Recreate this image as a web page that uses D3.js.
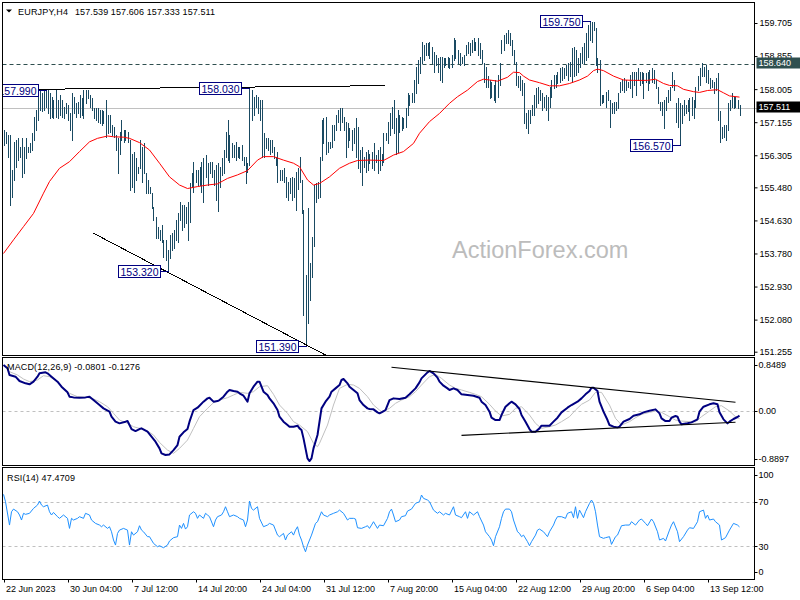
<!DOCTYPE html>
<html><head><meta charset="utf-8">
<script src="https://cdn.jsdelivr.net/npm/d3@7"></script>
<style>html,body{margin:0;padding:0;background:#fff;}svg{display:block;font-family:"Liberation Sans",Arial,sans-serif;}</style>
</head><body><svg id="c" width="800" height="600"></svg>
<script>
// ---------- DATA ----------
const symbolName = "EURJPY,H4";
const ohlcNow = ["157.539","157.606","157.333","157.511"];
const barHigh = [
156.95,156.91,156.83,156.83,155.93,156.65,156.70,156.74,156.53,156.74,
156.53,156.74,156.53,156.61,156.87,157.30,157.47,157.98,157.98,157.90,
157.98,157.98,157.98,157.90,157.81,157.73,157.98,157.73,157.85,157.73,
157.55,157.64,157.60,157.38,157.90,157.81,157.64,157.68,157.85,157.77,
157.98,157.98,157.98,157.85,157.77,157.51,157.51,157.51,157.47,157.47,
157.43,157.73,157.34,157.34,157.08,157.04,156.83,156.74,156.91,157.21,
156.95,156.95,156.91,156.70,156.35,156.40,156.23,156.01,156.70,156.53,
156.61,155.84,155.67,155.50,155.33,154.98,154.73,154.47,154.38,154.51,
154.13,154.13,153.87,154.26,154.30,154.38,154.64,154.81,155.11,155.03,
155.03,154.98,155.11,155.58,155.84,156.14,155.93,155.93,156.01,156.14,
156.23,156.31,156.10,156.14,156.14,155.93,156.05,156.10,156.01,156.23,
156.44,156.91,157.21,156.83,156.61,156.57,156.65,156.53,156.53,156.57,
156.27,156.27,156.10,158.03,
157.98,157.81,157.85,157.81,157.73,157.73,156.87,156.74,156.74,156.70,
156.70,156.53,156.27,156.40,155.93,155.93,155.97,155.75,155.63,155.71,
155.75,155.71,155.88,155.97,156.27,155.67,154.90,153.23,154.94,153.53,
154.21,155.54,155.58,155.63,156.27,157.21,157.25,157.30,156.65,156.65,
157.08,157.08,157.34,157.47,157.51,157.51,157.30,157.17,157.13,157.00,
156.95,157.00,157.25,157.04,156.44,156.53,156.27,156.40,156.44,156.35,
156.40,156.61,156.31,156.44,156.53,156.35,156.87,156.87,157.17,157.38,
157.55,157.73,157.25,157.47,157.34,157.30,157.25,157.51,157.90,157.85,
157.90,158.24,158.58,158.75,158.84,159.22,159.14,159.18,159.18,159.22,
159.10,158.97,158.88,158.80,158.84,158.84,158.80,158.80,158.84,158.80,
158.88,159.31,159.27,159.01,158.93,158.84,158.88,159.14,159.22,159.18,
159.27,159.31,159.22,159.31,159.18,159.01,158.67,158.58,158.33,158.24,
158.20,158.11,158.24,158.37,
158.67,159.27,159.40,159.44,159.53,159.44,159.27,159.01,158.71,158.33,
158.33,158.24,158.15,157.38,157.47,157.47,157.60,157.85,158.03,158.07,
157.98,157.90,157.81,157.85,157.81,158.07,158.24,158.37,158.37,158.45,
158.54,158.58,158.54,158.63,158.67,158.71,159.05,159.10,159.01,158.80,
158.93,159.10,159.18,159.44,159.65,159.75,159.72,159.74,159.57,158.80,
158.75,157.85,157.85,157.94,157.98,157.73,157.64,157.68,157.68,157.90,
158.20,158.24,158.28,158.24,158.20,158.37,158.45,158.45,158.45,158.54,
158.45,158.45,158.41,158.41,158.45,158.50,158.54,158.50,158.24,158.07,
157.68,157.68,157.73,157.81,157.98,158.07,158.45,158.24,157.64,157.77,
157.64,157.60,157.73,157.60,157.73,157.77,157.81,157.73,158.07,158.33,
158.54,158.67,158.58,158.63,158.50,158.28,158.24,158.20,158.28,158.41,
157.43,157.04,157.08,157.08,157.64,157.73,157.90,157.81,157.81,157.73,
157.606];
const barLow = [
156.57,156.61,156.27,155.03,155.24,155.67,156.01,156.18,156.27,155.75,
155.84,156.23,156.40,156.40,156.44,156.70,156.95,157.21,157.47,157.43,
157.47,157.55,157.38,157.25,157.30,157.25,157.30,157.25,157.34,157.30,
157.25,157.38,157.21,156.95,156.70,157.38,157.30,157.38,157.30,157.34,
157.25,157.64,157.77,157.55,157.47,157.25,157.21,157.17,157.13,157.08,
157.13,156.78,156.87,156.91,156.83,156.78,156.44,155.84,156.35,156.70,
156.65,156.70,156.65,155.41,155.50,155.37,155.67,155.84,155.97,155.63,
155.84,155.33,155.33,155.33,154.94,154.64,154.17,154.17,154.13,154.08,
153.70,153.61,153.32,153.66,153.87,153.91,154.13,154.08,154.64,154.38,
154.47,154.56,154.13,154.60,155.50,155.37,155.63,155.54,155.54,155.37,
155.11,155.75,155.54,155.84,155.75,155.54,155.15,154.86,155.50,155.80,
155.84,156.27,156.18,156.14,156.27,156.27,156.18,156.27,156.23,156.18,
156.05,155.58,155.88,156.05,
157.21,157.34,157.55,157.38,157.21,156.27,156.27,156.48,156.44,156.35,
156.40,156.23,156.05,155.63,155.67,155.67,155.63,155.24,155.15,155.33,
155.15,155.24,154.90,155.45,155.63,154.81,152.20,151.39,151.98,152.58,
153.18,153.96,155.11,155.20,155.24,156.18,156.61,156.35,156.40,156.48,
156.53,156.70,156.95,157.17,156.95,157.17,156.95,156.27,156.53,156.70,
156.44,156.61,156.27,155.97,155.88,155.54,156.01,155.88,155.93,156.10,
155.97,155.93,156.14,155.84,155.93,156.05,156.14,156.70,156.61,156.83,
157.00,156.87,156.35,156.40,156.91,156.95,157.00,157.04,157.34,157.60,
157.68,157.68,157.90,158.15,158.41,158.67,158.75,158.88,158.88,158.80,
158.67,158.45,158.63,158.45,158.24,158.20,158.58,158.63,158.58,158.54,
158.58,158.75,158.80,158.67,158.63,158.67,158.63,158.88,158.93,158.88,
158.97,159.01,159.01,158.88,158.80,158.67,158.20,158.07,158.07,157.77,
157.81,157.73,157.68,157.81,
158.11,158.93,159.01,159.18,159.18,159.14,158.88,158.67,158.11,158.07,
157.98,157.85,157.13,157.00,156.87,157.13,157.34,157.34,157.55,157.64,
157.73,157.47,157.55,157.47,157.21,157.55,157.81,158.03,158.07,158.15,
158.20,158.24,158.28,158.37,158.24,158.33,158.20,158.33,158.37,158.45,
158.58,158.67,158.67,158.75,158.84,159.27,159.22,159.53,158.63,158.45,
157.60,157.64,157.68,157.55,157.73,157.04,157.38,157.38,157.47,157.51,
157.94,157.98,157.94,157.98,158.07,158.03,157.81,158.11,157.85,158.24,
158.11,158.15,157.77,158.20,157.98,158.15,158.20,158.15,158.03,157.64,
157.47,157.34,157.00,157.47,157.68,157.73,158.07,157.98,157.17,157.04,
156.57,157.13,157.34,157.38,157.43,157.21,157.34,157.25,157.55,157.98,
158.11,158.33,158.33,158.20,158.15,158.03,158.07,157.90,157.98,157.21,
156.65,156.74,156.78,156.70,156.95,157.47,157.55,157.51,157.55,157.51,
157.333];
// moving average (red) : [bar index, price]
const maLine = [[0,153.78],[5,154.13],[10,154.47],[15,154.81],[20,155.33],[23,155.63],[28,155.97],[33,156.14],[38,156.40],[43,156.65],[47,156.74],[52,156.80],[55,156.78],[60,156.77],[63,156.74],[68,156.63],[73,156.44],[78,156.10],[83,155.75],[88,155.54],[92,155.45],[97,155.50],[102,155.54],[107,155.57],[112,155.71],[117,155.80],[122,155.91],[127,156.18],[130,156.27],[135,156.27],[140,156.18],[145,156.10],[148,156.01],[152,155.67],[155,155.54],[158,155.58],[163,155.75],[168,155.97],[173,156.10],[177,156.17],[183,156.18],[190,156.17],[195,156.31],[200,156.40],[205,156.61],[208,156.87],[213,157.17],[218,157.38],[223,157.64],[227,157.81],[232,157.98],[237,158.20],[240,158.26],[243,158.24],[247,158.21],[252,158.31],[255,158.44],[258,158.43],[260,158.34],[263,158.24],[268,158.17],[273,158.09],[278,158.09],[283,158.15],[288,158.24],[292,158.34],[295,158.48],[297,158.52],[300,158.48],[305,158.34],[310,158.24],[315,158.23],[322,158.23],[326,158.26],[330,158.15],[333,158.10],[337,158.09],[340,158.00],[345,157.94],[348,157.92],[352,157.97],[357,157.99],[360,157.91],[363,157.83],[368,157.80]];
// MACD main (navy) and signal (silver): [bar index, value]
const macdMain = [[0,0.736],[2,0.683],[3,0.575],[6,0.548],[8,0.478],[11,0.441],[13,0.425],[15,0.468],[17,0.548],[18,0.602],[21,0.618],[22,0.602],[24,0.548],[27,0.468],[29,0.387],[32,0.296],[33,0.226],[35,0.215],[38,0.210],[41,0.215],[43,0.226],[45,0.172],[48,0.092],[50,0.038],[53,-0.015],[54,-0.096],[56,-0.176],[58,-0.203],[61,-0.176],[62,-0.166],[63,-0.230],[64,-0.295],[66,-0.327],[68,-0.295],[69,-0.284],[72,-0.337],[74,-0.418],[76,-0.499],[78,-0.606],[79,-0.686],[81,-0.713],[83,-0.703],[85,-0.633],[87,-0.552],[88,-0.418],[90,-0.348],[92,-0.295],[93,-0.176],[95,0.011],[97,0.049],[98,0.081],[100,0.146],[102,0.199],[103,0.210],[105,0.146],[107,0.156],[108,0.172],[110,0.226],[112,0.307],[113,0.334],[115,0.317],[117,0.307],[118,0.280],[120,0.242],[122,0.146],[123,0.280],[125,0.387],[127,0.468],[128,0.468],[130,0.307],[132,0.253],[133,0.199],[135,0.119],[137,0.011],[138,-0.096],[140,-0.176],[142,-0.230],[143,-0.257],[145,-0.257],[147,-0.241],[148,-0.284],[149,-0.311],[150,-0.445],[151,-0.606],[152,-0.767],[153,-0.810],[154,-0.767],[155,-0.606],[157,-0.391],[158,-0.176],[159,0.038],[161,0.146],[163,0.226],[164,0.307],[166,0.360],[168,0.414],[169,0.495],[170,0.511],[172,0.441],[173,0.387],[175,0.334],[177,0.280],[178,0.172],[180,0.092],[182,0.038],[183,0.028],[185,0.022],[187,-0.026],[188,-0.042],[189,-0.026],[191,0.011],[193,0.172],[195,0.199],[198,0.189],[201,0.210],[203,0.264],[206,0.360],[208,0.457],[209,0.521],[212,0.618],[213,0.640],[215,0.602],[217,0.532],[218,0.468],[220,0.403],[222,0.360],[223,0.334],[225,0.360],[227,0.334],[229,0.264],[232,0.253],[235,0.242],[238,0.210],[239,0.146],[241,0.092],[243,-0.015],[244,-0.112],[246,-0.150],[248,-0.150],[249,-0.069],[251,0.065],[253,0.119],[254,0.146],[256,0.103],[258,0.028],[259,-0.069],[261,-0.176],[263,-0.295],[264,-0.337],[266,-0.337],[268,-0.284],[269,-0.241],[273,-0.241],[275,-0.176],[277,-0.112],[279,-0.026],[282,0.049],[284,0.092],[287,0.146],[289,0.199],[291,0.264],[293,0.317],[294,0.371],[295,0.371],[297,0.317],[298,0.146],[300,-0.015],[302,-0.150],[303,-0.230],[305,-0.257],[307,-0.268],[308,-0.257],[310,-0.176],[313,-0.133],[315,-0.080],[318,-0.058],[320,-0.026],[323,0.000],[326,0.022],[328,-0.042],[329,-0.123],[331,-0.166],[333,-0.166],[334,-0.112],[336,-0.085],[337,-0.096],[338,-0.176],[339,-0.219],[342,-0.203],[344,-0.187],[347,-0.139],[348,-0.015],[350,0.065],[353,0.103],[355,0.119],[357,0.103],[358,-0.026],[360,-0.139],[362,-0.203],[363,-0.176],[365,-0.133],[367,-0.101],[368,-0.080]];
const macdSignal = [[0,0.736],[3,0.629],[7,0.575],[10,0.511],[13,0.468],[17,0.495],[20,0.564],[23,0.548],[27,0.468],[30,0.360],[33,0.280],[37,0.226],[42,0.215],[45,0.189],[48,0.146],[52,0.065],[55,-0.042],[58,-0.150],[62,-0.203],[65,-0.257],[68,-0.284],[72,-0.327],[75,-0.391],[78,-0.510],[82,-0.633],[85,-0.686],[88,-0.606],[92,-0.472],[95,-0.284],[98,-0.096],[102,0.038],[105,0.130],[108,0.172],[112,0.210],[115,0.253],[118,0.296],[122,0.280],[125,0.307],[128,0.387],[132,0.403],[135,0.264],[138,0.092],[142,-0.042],[145,-0.176],[148,-0.230],[152,-0.337],[155,-0.525],[157,-0.579],[158,-0.525],[162,-0.230],[165,0.092],[168,0.360],[172,0.425],[175,0.414],[178,0.360],[182,0.226],[185,0.092],[188,0.011],[189,-0.015],[193,0.038],[196,0.119],[199,0.172],[203,0.226],[206,0.307],[209,0.414],[213,0.548],[216,0.586],[219,0.521],[223,0.414],[226,0.360],[229,0.334],[233,0.296],[236,0.264],[239,0.226],[243,0.103],[246,-0.005],[249,-0.085],[253,-0.058],[256,0.038],[259,0.065],[263,-0.069],[266,-0.203],[269,-0.284],[273,-0.257],[276,-0.230],[279,-0.176],[283,-0.096],[286,0.011],[289,0.103],[293,0.172],[296,0.296],[299,0.296],[303,0.092],[306,-0.123],[309,-0.230],[313,-0.176],[316,-0.112],[319,-0.058],[323,-0.026],[326,-0.005],[329,-0.026],[333,-0.096],[336,-0.150],[339,-0.166],[343,-0.176],[346,-0.176],[349,-0.096],[353,-0.005],[356,0.065],[359,0.081],[363,-0.005],[366,-0.096],[368,-0.128]];
// RSI(14): [bar index, value]
const rsiLine = [[0,76.6],[1,70.0],[3,49.1],[4,61.0],[5,63.4],[7,61.0],[8,58.1],[9,53.6],[10,59.6],[11,58.7],[13,59.6],[15,64.0],[17,67.0],[18,70.6],[19,67.0],[20,65.5],[22,67.0],[23,61.0],[24,58.1],[25,60.4],[27,56.6],[28,55.1],[30,58.1],[32,55.1],[33,46.1],[34,55.1],[35,53.6],[37,55.1],[38,56.6],[40,55.1],[41,59.6],[43,58.1],[44,53.6],[46,50.6],[48,49.1],[49,47.6],[50,49.1],[52,46.1],[53,47.6],[54,43.1],[55,35.7],[56,31.2],[57,41.6],[58,44.6],[60,46.1],[62,44.6],[63,31.2],[64,43.1],[65,40.1],[67,43.1],[68,48.5],[69,44.6],[70,43.1],[72,38.7],[73,38.7],[75,32.7],[77,29.7],[78,30.6],[80,28.8],[82,31.2],[83,34.8],[85,37.8],[87,38.7],[88,49.1],[89,46.1],[90,50.6],[91,45.5],[92,47.6],[93,58.1],[95,61.0],[96,59.6],[97,55.1],[98,58.1],[100,55.1],[101,59.6],[102,58.1],[103,56.6],[105,47.6],[106,53.6],[107,56.6],[109,58.1],[110,61.0],[111,65.5],[112,61.0],[113,56.6],[115,58.1],[117,56.6],[118,55.1],[120,53.6],[121,47.6],[122,53.6],[123,70.6],[124,64.0],[125,62.5],[127,65.5],[128,55.1],[130,47.6],[132,49.1],[133,50.6],[135,49.1],[137,40.1],[138,38.7],[140,41.6],[141,35.7],[142,40.1],[144,43.1],[145,40.1],[146,44.6],[147,47.6],[148,40.1],[149,35.7],[150,29.7],[151,25.2],[152,31.2],[154,40.1],[156,50.6],[157,52.1],[159,61.0],[160,58.1],[162,56.6],[163,58.1],[165,59.6],[167,61.0],[168,62.5],[170,59.6],[172,53.6],[173,55.1],[175,55.1],[176,54.5],[177,46.7],[179,46.1],[181,47.6],[182,48.5],[183,46.1],[185,52.1],[187,46.1],[188,49.1],[190,48.5],[192,55.1],[193,61.0],[194,63.4],[195,58.1],[196,52.1],[198,53.6],[199,56.6],[201,57.5],[202,61.6],[204,63.4],[206,68.5],[208,70.0],[209,76.0],[210,73.0],[212,71.5],[213,70.0],[215,62.5],[217,59.6],[218,61.0],[220,58.1],[221,59.6],[223,58.1],[225,65.5],[226,58.1],[228,56.6],[229,55.7],[231,61.0],[232,55.1],[233,61.0],[235,58.1],[237,61.0],[238,56.6],[240,49.1],[241,43.1],[243,38.7],[244,35.7],[245,30.6],[246,38.7],[248,47.6],[249,55.1],[250,61.0],[251,63.4],[253,63.4],[254,61.0],[255,53.6],[257,43.1],[258,41.6],[259,38.7],[260,40.1],[262,34.2],[263,30.6],[264,34.2],[266,40.1],[267,44.6],[268,45.5],[270,43.1],[272,38.7],[273,43.1],[275,49.1],[276,53.6],[277,56.6],[279,56.6],[281,55.1],[282,59.6],[284,61.0],[285,55.7],[286,65.5],[287,55.1],[288,62.5],[290,55.7],[291,61.0],[293,68.5],[294,71.5],[295,68.5],[296,61.0],[297,49.1],[298,38.7],[300,37.2],[301,37.8],[303,38.7],[304,31.8],[306,38.7],[307,40.1],[309,48.5],[311,49.1],[313,49.1],[314,52.1],[316,49.1],[318,53.6],[319,54.5],[321,50.6],[322,48.5],[324,54.5],[325,52.1],[327,43.1],[328,35.7],[330,37.2],[331,34.8],[333,44.6],[334,49.1],[335,52.1],[337,43.1],[338,34.2],[340,38.7],[342,44.6],[343,46.7],[345,46.1],[347,52.1],[348,61.0],[350,62.5],[351,55.1],[352,58.1],[353,53.6],[355,54.5],[356,52.1],[358,49.1],[359,35.7],[361,37.8],[363,44.6],[365,50.6],[367,49.1],[368,47.47]];
const priceTicks = [159.705,158.855,158.005,157.155,156.305,155.480,154.630,153.780,152.930,152.080,151.255];
const macdTicks = [0.8489,0,-0.8897];
const macdTickText = ["0.8489","0.00","-0.8897"];
const rsiTicks = [100,70,30,0];
const rsiLevels = [70,30];
const dateTickIdx = [0,32,64,96,128,160,192,224,256,288,320,352];
const dateTickText = ["22 Jun 2023","30 Jun 04:00","7 Jul 12:00","14 Jul 20:00","24 Jul 04:00","31 Jul 12:00","7 Aug 20:00","15 Aug 04:00","22 Aug 12:00","29 Aug 20:00","6 Sep 04:00","13 Sep 12:00"];
const levelPrice = 158.640;
const lastPrice = 157.511;
const labelText = ["157.990","158.030","153.320","151.390","159.750","156.570"];
const labelBar = [21,123,82,151,293,338];
const labelPrice = [157.990,158.030,153.320,151.390,159.750,156.570];
const flatLine = [[-2,157.99],[191,158.095]];
const diagLine = [[45,154.30],[161,151.17]];
const macdUpper = [[194,0.699],[366,0.136]];
const macdLower = [[229,-0.396],[366,-0.186]];
const macdHeader = "MACD(12,26,9) -0.0801 -0.1276";
const rsiHeader = "RSI(14) 47.4709";
const watermark = "ActionForex.com";

// ---------- LAYOUT ----------
const svg = d3.select("#c");
const L = 2.5, R = 754.5;
const pMain = [2.5, 355.5], pMacd = [357.5, 465.5], pRsi = [467.5, 579.5];
const x = d3.scaleLinear().domain([0, 368]).range([3.5, 739.5]);
const y = d3.scaleLinear().domain([151.255, 159.705]).range([351.7, 23]);
const ym = d3.scaleLinear().domain([-0.8897, 0.8489]).range([466, 358]);
const yr = d3.scaleLinear().domain([0, 100]).range([579.9, 468.2]);
const px = i => Math.round(x(i)) + 0.5;
const BAR = "#1a4a62", NAVY = "#000080";

svg.append("rect").attr("width", 800).attr("height", 600).attr("fill", "#fff");
const defs = svg.append("defs");
function clip(id, p) {
  defs.append("clipPath").attr("id", id).append("rect")
    .attr("x", L).attr("y", p[0]).attr("width", R - L).attr("height", p[1] - p[0]);
}
clip("cm", pMain); clip("cd", pMacd); clip("cr", pRsi);

// ---------- MAIN PANEL ----------
const gm = svg.append("g").attr("clip-path", "url(#cm)");
gm.append("text").attr("x", 452).attr("y", 257.5).attr("font-size", 23.5)
  .attr("fill", "#bcbcbc").text(watermark);
gm.append("line").attr("x1", L).attr("x2", R).attr("y1", Math.round(y(levelPrice)) + 0.5).attr("y2", Math.round(y(levelPrice)) + 0.5)
  .attr("stroke", "#2f4f4f").attr("stroke-dasharray", "4,3");
gm.append("line").attr("x1", L).attr("x2", R).attr("y1", Math.round(y(lastPrice)) + 0.5).attr("y2", Math.round(y(lastPrice)) + 0.5)
  .attr("stroke", "#c0c0c0");
gm.append("g").attr("shape-rendering", "crispEdges").selectAll("line").data(barHigh).join("line")
  .attr("x1", (d, i) => px(i)).attr("x2", (d, i) => px(i))
  .attr("y1", d => y(d)).attr("y2", (d, i) => y(barLow[i]) + 1)
  .attr("stroke", BAR).attr("stroke-width", 1);
gm.append("path").datum(maLine)
  .attr("d", d3.line().x(d => x(d[0])).y(d => y(d[1])))
  .attr("fill", "none").attr("stroke", "#ff0000").attr("stroke-width", 1);
[flatLine, diagLine].forEach(l => {
  gm.append("line").attr("x1", x(l[0][0])).attr("y1", y(l[0][1])).attr("x2", x(l[1][0])).attr("y2", y(l[1][1]))
    .attr("stroke", "#000").attr("stroke-width", 1).attr("shape-rendering", "crispEdges");
});
labelText.forEach((t, k) => {
  const ax = px(labelBar[k]), ay = Math.round(y(labelPrice[k])) + 0.5;
  const g = gm.append("g");
  const tx = g.append("text").attr("font-size", 10.5).attr("fill", NAVY).text(t);
  const w = tx.node().getComputedTextLength();
  const right = Math.round(ax - 9) + 0.5;
  g.insert("rect", "text").attr("x", right - w - 4).attr("y", ay - 6.5).attr("width", w + 4).attr("height", 12)
    .attr("fill", "#fff").attr("stroke", NAVY).attr("shape-rendering", "crispEdges");
  tx.attr("x", right - w - 2).attr("y", ay + 4);
  g.append("line").attr("x1", right).attr("x2", ax).attr("y1", ay).attr("y2", ay)
    .attr("stroke", NAVY).attr("shape-rendering", "crispEdges");
});
// header
svg.append("path").attr("d", "M6,9.5L12,9.5L9,12.5Z").attr("fill", "#000");
svg.append("text").attr("x", 18).attr("y", 14.5).attr("font-size", 9)
  .attr("textLength", 50).attr("lengthAdjust", "spacing").text(symbolName);
svg.append("text").attr("x", 75).attr("y", 14.5).attr("font-size", 9)
  .attr("textLength", 140).attr("lengthAdjust", "spacing").text(ohlcNow.join(" "));

// main right axis
const axM = svg.append("g").attr("transform", `translate(${R},0)`)
  .call(d3.axisRight(y).tickValues(priceTicks).tickFormat(d3.format(".3f")).tickSize(3).tickPadding(2));
axM.select(".domain").remove();
axM.selectAll("text").attr("font-size", 9).attr("font-family", "Liberation Sans, Arial, sans-serif").attr("fill", "#000");
function tagBox(p, fill) {
  const yy = Math.round(y(p)) - 1;
  svg.append("rect").attr("x", R + 2).attr("y", yy - 5.5).attr("width", 45).attr("height", 11).attr("fill", fill);
  svg.append("text").attr("x", R + 4).attr("y", yy + 3.3).attr("font-size", 9).attr("fill", "#fff").text(p.toFixed(3));
}
svg.append("line").attr("x1", R).attr("x2", R + 3).attr("y1", Math.round(y(lastPrice)) + 0.5).attr("y2", Math.round(y(lastPrice)) + 0.5).attr("stroke", "#c0c0c0");
tagBox(levelPrice, "#2f4f4f");
tagBox(lastPrice, "#000");

// ---------- MACD PANEL ----------
const gd = svg.append("g").attr("clip-path", "url(#cd)");
gd.append("line").attr("x1", L).attr("x2", R).attr("y1", Math.round(ym(0)) + 0.5).attr("y2", Math.round(ym(0)) + 0.5)
  .attr("stroke", "#c0c0c0").attr("stroke-dasharray", "3,3");
gd.append("path").datum(macdSignal).attr("d", d3.line().x(d => x(d[0])).y(d => ym(d[1])))
  .attr("fill", "none").attr("stroke", "#c0c0c0").attr("stroke-width", 1);
gd.append("path").datum(macdMain).attr("d", d3.line().x(d => x(d[0])).y(d => ym(d[1])))
  .attr("fill", "none").attr("stroke", NAVY).attr("stroke-width", 2).attr("stroke-linejoin", "round");
[macdUpper, macdLower].forEach(l => {
  gd.append("line").attr("x1", x(l[0][0])).attr("y1", ym(l[0][1])).attr("x2", x(l[1][0])).attr("y2", ym(l[1][1]))
    .attr("stroke", "#000").attr("stroke-width", 1.1);
});
svg.append("text").attr("x", 7).attr("y", 370).attr("font-size", 9)
  .attr("textLength", 133).attr("lengthAdjust", "spacing").text(macdHeader);
macdTicks.forEach((v, k) => {
  const yy = Math.max(pMacd[0] + 7, Math.min(pMacd[1] - 7, ym(v)));
  svg.append("line").attr("x1", R).attr("x2", R + 3).attr("y1", Math.round(yy) + 0.5).attr("y2", Math.round(yy) + 0.5).attr("stroke", "#000");
  svg.append("text").attr("x", R + 4).attr("y", yy + 3.2).attr("font-size", 9).text(macdTickText[k]);
});

// ---------- RSI PANEL ----------
const gr = svg.append("g").attr("clip-path", "url(#cr)");
rsiLevels.forEach(v => {
  gr.append("line").attr("x1", L).attr("x2", R).attr("y1", Math.round(yr(v)) + 0.5).attr("y2", Math.round(yr(v)) + 0.5)
    .attr("stroke", "#c0c0c0").attr("stroke-dasharray", "3,3");
});
gr.append("path").datum(rsiLine).attr("d", d3.line().x(d => x(d[0])).y(d => yr(d[1])))
  .attr("fill", "none").attr("stroke", "#1e90ff").attr("stroke-width", 1);
svg.append("text").attr("x", 7).attr("y", 481).attr("font-size", 9)
  .attr("textLength", 68).attr("lengthAdjust", "spacing").text(rsiHeader);
rsiTicks.forEach(v => {
  const yy = Math.max(pRsi[0] + 7.5, Math.min(pRsi[1] - 7.5, yr(v)));
  svg.append("line").attr("x1", R).attr("x2", R + 3).attr("y1", Math.round(yy) + 0.5).attr("y2", Math.round(yy) + 0.5).attr("stroke", "#000");
  svg.append("text").attr("x", R + 4).attr("y", yy + 3.2).attr("font-size", 9).text(v);
});

// ---------- FRAMES ----------
[pMain, pMacd, pRsi].forEach(p => {
  svg.append("rect").attr("x", L).attr("y", p[0]).attr("width", R - L).attr("height", p[1] - p[0])
    .attr("fill", "none").attr("stroke", "#000").attr("shape-rendering", "crispEdges");
});

// ---------- DATE AXIS ----------
const axD = svg.append("g").attr("transform", `translate(0,${pRsi[1]})`)
  .call(d3.axisBottom(x).tickValues(dateTickIdx).tickFormat((d, k) => dateTickText[k]).tickSize(3));
axD.select(".domain").remove();
axD.selectAll(".tick line").attr("transform", "translate(0.5,0)");
axD.selectAll("text").attr("font-size", 9).attr("font-family", "Liberation Sans, Arial, sans-serif")
  .attr("fill", "#000").attr("text-anchor", "start").attr("x", 2).attr("y", 5.8);
</script></body></html>
